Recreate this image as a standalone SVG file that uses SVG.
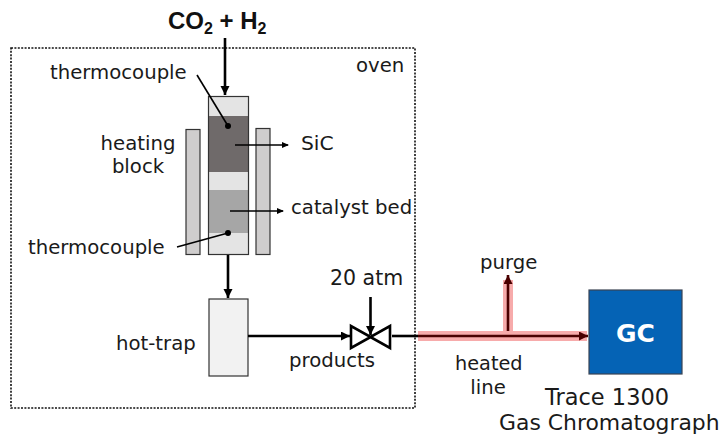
<svg xmlns="http://www.w3.org/2000/svg" width="724" height="434" viewBox="0 0 724 434">
<defs>
<marker id="a" markerUnits="userSpaceOnUse" markerWidth="12" markerHeight="12" refX="9" refY="4.5" orient="auto"><path d="M0 0L9 4.5L0 9z" fill="#000"/></marker>
<marker id="s" markerUnits="userSpaceOnUse" markerWidth="10" markerHeight="10" refX="6" refY="3" orient="auto"><path d="M0 0L7 3L0 6z" fill="#000"/></marker>
<marker id="r" markerUnits="userSpaceOnUse" markerWidth="12" markerHeight="12" refX="9" refY="4.5" orient="auto"><path d="M0 0L9 4.5L0 9z" fill="#4a0000"/></marker>
</defs>
<style>
text{font-family:"DejaVu Sans",Verdana,sans-serif;font-size:19.700px;fill:#1a1a1a}
.b{stroke:#333;stroke-width:1.2}
.c{fill:none;stroke:#000;stroke-width:2.6}
.t{fill:none;stroke:#000;stroke-width:1.6}
</style>
<rect id="oven" x="11" y="48" width="404" height="360" fill="none" stroke="#111" stroke-width="1.6" stroke-dasharray="2 1.400"/>
<g id="heating-block-left"><rect class="b" x="186" y="129.500" width="14" height="125" fill="#cfcdcd"/></g>
<g id="heating-block-right"><rect class="b" x="256" y="128.500" width="14" height="126" fill="#cfcdcd"/></g>
<g id="reactor">
<rect x="208.500" y="96.500" width="40" height="158" fill="#e4e4e4"/>
<rect x="208.500" y="116" width="40" height="56" fill="#6f6a6a"/>
<rect x="208.500" y="190" width="40" height="43" fill="#a6a6a6"/>
<rect x="208.500" y="96.500" width="40" height="158" fill="none" stroke="#333" stroke-width="1.2"/>
</g>
<g id="hot-trap"><rect class="b" x="209" y="299" width="39" height="77" fill="#f2f2f2"/></g>
<g id="gc"><rect x="589" y="290" width="93" height="84" fill="#0563b5" stroke="#3a4454" stroke-width="1.2"/><text x="635.500" y="342" text-anchor="middle" style="font-size:25px;font-weight:700;fill:#fff">GC</text></g>
<g id="connectors">
<path d="M225 38V95" class="c" marker-end="url(#a)"/>
<path d="M228 255V298" class="c" marker-end="url(#a)"/>
<path d="M248 336H350" class="c" marker-end="url(#a)"/>
<path d="M370.500 297V335" class="c" marker-end="url(#a)"/>
<path d="M392 336H418" class="c"/>
<path d="M418 336H587" fill="none" stroke="#f7abab" stroke-width="10"/>
<path d="M508 331V280" fill="none" stroke="#f7abab" stroke-width="10"/>
<path d="M418 336H588" fill="none" stroke="#4a0000" stroke-width="2.6" marker-end="url(#r)"/>
<path d="M508 331V275" fill="none" stroke="#4a0000" stroke-width="2.6" marker-end="url(#r)"/>
<path d="M197 75L228 126" class="t"/><circle cx="228" cy="126" r="3" fill="#000"/>
<path d="M177 247L228 233" class="t"/><circle cx="228" cy="233" r="3" fill="#000"/>
<path d="M235 145H288" class="t" marker-end="url(#s)"/>
<path d="M230 211H283" class="t" marker-end="url(#s)"/>
</g>
<g id="valve"><path d="M351 326V348L370.500 337L390 348V326L370.500 337z" fill="none" stroke="#000" stroke-width="2.600" stroke-linejoin="miter"/></g>
<text x="168" y="29" style="font-family:'Liberation Sans',Arial,sans-serif;font-size:24px;font-weight:700;fill:#111">CO<tspan dy="5" style="font-size:16px">2</tspan><tspan dy="-5"> + H</tspan><tspan dy="5" style="font-size:16px">2</tspan></text>
<text x="356" y="72">oven</text>
<text x="50" y="79">thermocouple</text>
<text x="138" y="150" text-anchor="middle">heating</text>
<text x="138" y="173" text-anchor="middle">block</text>
<text x="301" y="150" style="font-size:20.300px">SiC</text>
<text x="291" y="214">catalyst bed</text>
<text x="28" y="254">thermocouple</text>
<text x="116" y="350">hot-trap</text>
<text x="330" y="285" style="font-size:20.500px">20 atm</text>
<text x="289" y="367">products</text>
<text x="480" y="269">purge</text>
<text x="455" y="370" style="font-size:19.300px">heated</text>
<text x="488" y="394" text-anchor="middle">line</text>
<text x="545" y="405" style="font-size:22.500px">Trace 1300</text>
<text x="499" y="429.500" style="font-size:21.900px">Gas Chromatograph</text>
</svg>
